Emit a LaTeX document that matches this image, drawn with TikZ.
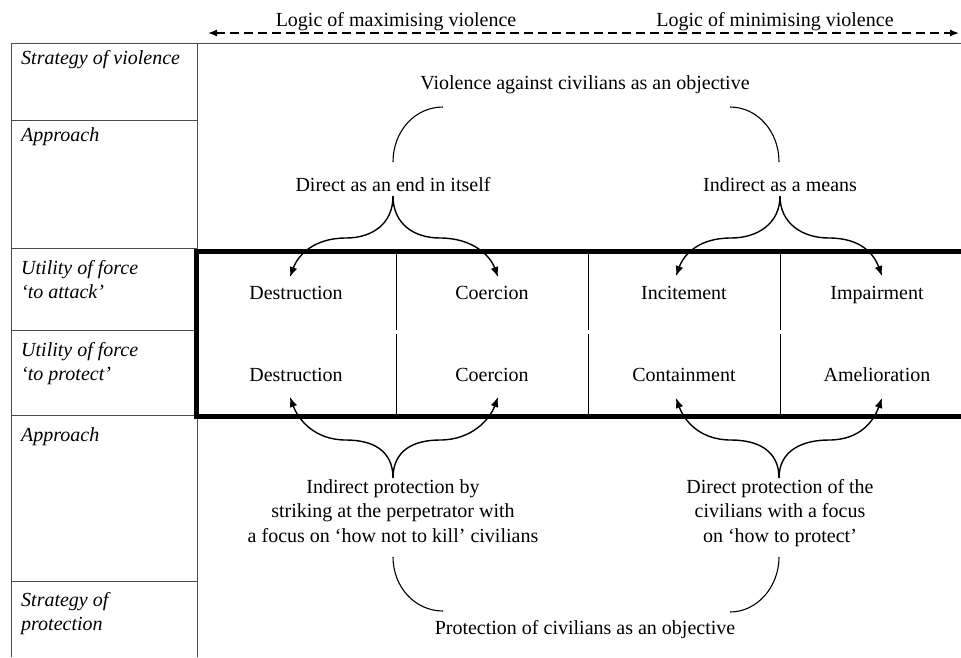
\documentclass[tikz,border=0pt]{standalone}
\usepackage{fontspec}
\setmainfont{Liberation Serif}
\usetikzlibrary{arrows.meta}
\begin{document}
\begin{tikzpicture}[x=1pt,y=-1pt,
  txt/.style={font=\fontsize{20}{24.5}\selectfont, inner sep=0pt, anchor=base},
  lbl/.style={font=\fontsize{20}{24.5}\selectfont\itshape, inner sep=0pt, anchor=base west},
  grid/.style={draw=black!70, line width=0.9pt},
  divline/.style={draw=black, line width=0.8pt},
  arcline/.style={draw=black, line width=1.1pt},
  barrow/.style={draw=black, line width=1.4pt, -{Latex[length=10pt,width=8pt]}},
  logicarrow/.style={draw=black, line width=1.3pt, dash pattern=on 9pt off 5pt,
     {Latex[length=9pt,width=7pt]}-{Latex[length=9pt,width=7pt]}}
]
\clip (0,0) rectangle (961,657);
\fill[white] (0,0) rectangle (961,657);

% table lines
\draw[grid] (11,43) -- (961,43);
\draw[grid] (11,43) -- (11,657);
\draw[grid] (197,43) -- (197,251);
\draw[grid] (197,416) -- (197,657);
\draw[grid] (11,120) -- (197,120);
\draw[grid] (11,248) -- (197,248);
\draw[grid] (11,330) -- (197,330);
\draw[grid] (11,415) -- (197,415);
\draw[grid] (11,581) -- (197,581);

% thick box and dividers
\draw[line width=5pt] (196.5,251) rectangle (990,416.5);
\foreach \x in {396,588,780}{
  \draw[divline] (\x,253) -- (\x,330);
  \draw[divline] (\x,334) -- (\x,414);
}

% logic arrow
\coordinate (la) at (208,33);
\coordinate (lb) at (959,33);
\draw[logicarrow] (la) -- (lb);
\node[txt] (lmax) at (396,26) {Logic of maximising violence};
\node[txt] (lmin) at (775,26) {Logic of minimising violence};

% left labels
\node[lbl] (l1) at (21,64) {Strategy of violence};
\node[lbl] (l2) at (21,141) {Approach};
\node[lbl] (l3) at (21,274) {\begin{tabular}[t]{@{}l@{}}Utility of force\\‘to attack’\end{tabular}};
\node[lbl] (l4) at (21,356) {\begin{tabular}[t]{@{}l@{}}Utility of force\\‘to protect’\end{tabular}};
\node[lbl] (l5) at (21,441) {Approach};
\node[lbl] (l6) at (21,606) {\begin{tabular}[t]{@{}l@{}}Strategy of\\protection\end{tabular}};

% main texts
\node[txt] (viol) at (585,89) {Violence against civilians as an objective};
\node[txt] (dir) at (393,191) {Direct as an end in itself};
\node[txt] (ind) at (780,191) {Indirect as a means};

\node[txt] (c11) at (296,299) {Destruction};
\node[txt] (c12) at (492,299) {Coercion};
\node[txt] (c13) at (684,299) {Incitement};
\node[txt] (c14) at (877,299) {Impairment};
\node[txt] (c21) at (296,381) {Destruction};
\node[txt] (c22) at (492,381) {Coercion};
\node[txt] (c23) at (684,381) {Containment};
\node[txt] (c24) at (877,381) {Amelioration};

\node[txt] (iprot) at (393,493) {\begin{tabular}[t]{@{}c@{}}Indirect protection by\\striking at the perpetrator with\\a focus on ‘how not to kill’ civilians\end{tabular}};
\node[txt] (dprot) at (780,493) {\begin{tabular}[t]{@{}c@{}}Direct protection of the\\civilians with a focus\\on ‘how to protect’\end{tabular}};
\node[txt] (prot) at (585,634) {Protection of civilians as an objective};

% arcs
\draw[arcline] (443,107) .. controls (415,107) and (393,131) .. (393,162);
\draw[arcline] (730,107) .. controls (757,107) and (779,131) .. (779,162);
\draw[arcline] (393,557) .. controls (393,587) and (415,611) .. (443,611);
\draw[arcline] (779,557) .. controls (779,587) and (757,612) .. (730,612);

% brace tips and arrow ends
\coordinate (tl) at (393,196);
\coordinate (tr) at (780,196);
\coordinate (bl) at (393,478);
\coordinate (br) at (779,478);
\coordinate (a1) at (290,277);
\coordinate (a2) at (498,277);
\coordinate (a3) at (676,276);
\coordinate (a4) at (882,276);
\coordinate (b1) at (290,397);
\coordinate (b2) at (498,397);
\coordinate (b3) at (676,398);
\coordinate (b4) at (882,398);

% top braces
\draw[barrow] (tl) .. controls +(0,28) and +(26,0) .. (346,238) .. controls +(-32,0) and +(8,-22) .. (a1);
\draw[barrow] (tl) .. controls +(0,28) and +(-26,0) .. (440,238) .. controls +(32,0) and +(-8,-22) .. (a2);
\draw[barrow] (tr) .. controls +(0,28) and +(26,0) .. (731,238) .. controls +(-32,0) and +(8,-22) .. (a3);
\draw[barrow] (tr) .. controls +(0,28) and +(-26,0) .. (829,238) .. controls +(32,0) and +(-8,-22) .. (a4);

% bottom braces
\draw[barrow] (bl) .. controls +(0,-28) and +(26,0) .. (346,440) .. controls +(-32,0) and +(8,22) .. (b1);
\draw[barrow] (bl) .. controls +(0,-28) and +(-26,0) .. (440,440) .. controls +(32,0) and +(-8,22) .. (b2);
\draw[barrow] (br) .. controls +(0,-28) and +(26,0) .. (731,440) .. controls +(-32,0) and +(8,22) .. (b3);
\draw[barrow] (br) .. controls +(0,-28) and +(-26,0) .. (829,440) .. controls +(32,0) and +(-8,22) .. (b4);
\end{tikzpicture}
\end{document}
